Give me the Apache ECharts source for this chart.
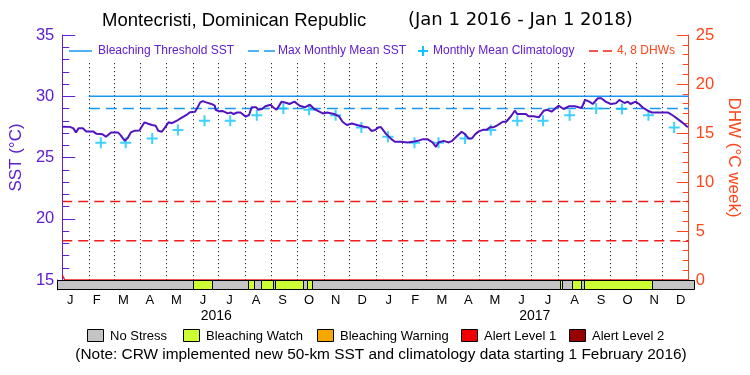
<!DOCTYPE html>
<html>
<head>
<meta charset="utf-8">
<title>Montecristi, Dominican Republic</title>
<script src="https://cdn.jsdelivr.net/npm/echarts@6.0.0/dist/echarts.min.js"></script>
<style>
  html, body { margin: 0; padding: 0; background: #fff; }
  #chart { width: 750px; height: 375px; }
</style>
</head>
<body>
<div id="chart"></div>
<script>
var DAY = 86400000;
var START = Date.UTC(2016, 0, 1);
var TOTAL_DAYS = 731; // Jan 1 2016 -> Jan 1 2018

// daily SST: days since Jan 1 2016 / °C
var sstDays = [0, 9, 13, 16, 19, 24, 28, 36, 40, 47, 51, 57, 65, 68, 73, 76, 80, 84, 90, 96,
  100, 105, 109, 112, 116, 120, 124, 128, 130, 135, 140, 145, 149, 155, 158, 161, 164, 168, 174, 178,
  179, 183, 187, 189, 193, 197, 200, 204, 208, 214, 218, 221, 226, 229, 233, 237, 243, 246, 250, 256,
  262, 265, 271, 277, 283, 289, 294, 300, 304, 309, 317, 323, 327, 332, 338, 344, 352, 357, 361, 365,
  369, 372, 378, 384, 388, 395, 403, 411, 415, 421, 426, 432, 436, 439, 445, 451, 455, 461, 466, 470,
  474, 478, 482, 486, 491, 495, 499, 503, 508, 514, 518, 524, 528, 531, 541, 544, 550, 556, 562, 566,
  571, 579, 585, 591, 598, 606, 610, 615, 619, 625, 629, 634, 640, 646, 650, 656, 660, 663, 669, 673,
  677, 683, 688, 702, 707, 713, 721, 726, 730];
var sstValues = [27.51, 27.5, 27.38, 27.05, 27.38, 27.38, 27.13, 27.13, 26.93, 26.9, 26.69, 27.05, 27.05, 26.83, 26.36, 26.56, 27.05, 27.18, 27.2, 27.87,
  27.76, 27.65, 27.6, 27.18, 27.1, 27.46, 27.87, 27.8, 27.7, 28.06, 28.28, 28.47, 28.69, 28.74, 29.1, 29.5, 29.6, 29.5, 29.37, 29.23,
  28.9, 28.77, 28.8, 28.74, 28.6, 28.67, 28.55, 28.67, 28.67, 28.33, 28.47, 29.1, 29.1, 28.9, 28.96, 29.18, 29.31, 29.1, 28.9, 29.56,
  29.45, 29.37, 29.56, 29.23, 29.1, 29.31, 28.96, 28.74, 28.6, 28.67, 28.55, 28.36, 27.92, 27.65, 27.78, 27.65, 27.51, 27.46, 27.16, 27.24,
  27.46, 27.46, 26.91, 26.5, 26.28, 26.28, 26.23, 26.3, 26.36, 26.5, 26.5, 26.23, 25.87, 26.23, 26.36, 26.23, 26.36, 26.77, 27.1, 26.91,
  26.56, 26.56, 26.91, 27.13, 27.26, 27.26, 27.46, 27.46, 27.65, 27.92, 27.92, 28.41, 28.82, 28.55, 28.55, 28.36, 28.36, 28.28, 28.82, 28.9,
  28.74, 29.23, 28.96, 29.18, 29.18, 29.04, 29.7, 29.56, 29.37, 29.84, 29.84, 29.56, 29.37, 29.42, 29.7, 29.45, 29.56, 29.37, 29.56, 29.37,
  29.1, 28.82, 28.67, 28.67, 28.67, 28.41, 27.99, 27.71, 27.46];

// monthly mean climatology, Jan 2016 .. Dec 2017 (none shown for Jan 2016)
var climValues = [null, 26.2, 26.2, 26.55, 27.25, 28.0, 28.0, 28.45, 29.0, 28.9, 28.45, 27.45,
  26.7, 26.2, 26.2, 26.55, 27.25, 28.0, 28.0, 28.45, 29.0, 28.95, 28.45, 27.45];

var thresholdSST = 30.0;
var mmmSST = 29.0;
var climStartDay = 31; // threshold lines start 1 Feb 2016
var dhwLevels = [4, 8];
var dhwDays = [0, 2, 3, TOTAL_DAYS];
var dhwValues = [0.5, 0.5, 0, 0];

// stress level bar (0 = no stress, 1 = bleaching watch)
var stressStart = [0, 156, 178, 219.5, 226.4, 233.7, 248.2, 250.5, 282.7, 286.5, 293, 577.2, 579.9, 591.4, 601.7, 605.2, 683.2];
var stressEnd = [156, 178, 219.5, 226.4, 233.7, 248.2, 250.5, 282.7, 286.5, 293, 577.2, 579.9, 591.4, 601.7, 605.2, 683.2, 731];
var stressLevel = [0, 1, 0, 1, 0, 1, 0, 1, 0, 1, 0, 1, 0, 1, 0, 1, 0];
var stressNames = ['No Stress', 'Bleaching Watch', 'Bleaching Warning', 'Alert Level 1', 'Alert Level 2'];
var stressColors = ['#c4c4c4', '#ccff33', '#f7a800', '#ee0000', '#960000'];

var monthLetters = ['J', 'F', 'M', 'A', 'M', 'J', 'J', 'A', 'S', 'O', 'N', 'D'];
var years = ['2016', '2017'];

var PURPLE = '#6020d0';
var SSTLINE = '#5214bf';
var ORANGE = '#ff4418';
var BLUE = '#1a96f0';
var CYAN = '#10c4ff';
var RED = '#f01c1c';
var FONT = '"Liberation Sans", Arial, sans-serif';

function dayOf(y, m, d) { return (Date.UTC(y, m, d) - START) / DAY; }

var monthStarts = [], monthMids = [], monthCats = [];
years.forEach(function (y) {
  for (var m = 0; m < 12; m++) {
    var s = dayOf(+y, m, 1);
    if (s > 0) monthStarts.push(s);
    monthMids.push(dayOf(+y, m, 15));
    monthCats.push(String(monthCats.length));
  }
});

var sstData = sstDays.map(function (d, i) { return [d, sstValues[i]]; });
var climData = [];
climValues.forEach(function (v, i) { if (v != null) climData.push([monthMids[i], v]); });
var dhwData = dhwDays.map(function (d, i) { return [d, dhwValues[i]]; });
var stressData = stressStart.map(function (s, i) { return [s, stressEnd[i], stressLevel[i]]; });

var chart = echarts.init(document.getElementById('chart'));

var legendY = 51;
var graphics = [
  { type: 'line', shape: { x1: 69, y1: legendY, x2: 92, y2: legendY }, style: { stroke: BLUE, lineWidth: 1.5 } },
  { type: 'text', style: { text: 'Bleaching Threshold SST', x: 98, y: legendY, fill: PURPLE, font: '12px ' + FONT, verticalAlign: 'middle' } },
  { type: 'line', shape: { x1: 248, y1: legendY, x2: 275, y2: legendY }, style: { stroke: BLUE, lineWidth: 1.5, lineDash: [11, 5] } },
  { type: 'text', style: { text: 'Max Monthly Mean SST', x: 278, y: legendY, fill: PURPLE, font: '12px ' + FONT, verticalAlign: 'middle' } },
  { type: 'line', shape: { x1: 418, y1: legendY, x2: 428, y2: legendY }, style: { stroke: CYAN, lineWidth: 2 } },
  { type: 'line', shape: { x1: 423, y1: legendY - 5, x2: 423, y2: legendY + 5 }, style: { stroke: CYAN, lineWidth: 2 } },
  { type: 'text', style: { text: 'Monthly Mean Climatology', x: 433, y: legendY, fill: PURPLE, font: '12px ' + FONT, verticalAlign: 'middle' } },
  { type: 'line', shape: { x1: 589, y1: legendY, x2: 612, y2: legendY }, style: { stroke: RED, lineWidth: 1.5, lineDash: [9, 5] } },
  { type: 'text', style: { text: '4, 8 DHWs', x: 617, y: legendY, fill: ORANGE, font: '12px ' + FONT, verticalAlign: 'middle' } }
];
var boxX = [87, 183, 317, 461, 569];
stressNames.forEach(function (name, i) {
  graphics.push({ type: 'rect', shape: { x: boxX[i] + 0.5, y: 329.5, width: 16, height: 12 }, style: { fill: stressColors[i], stroke: '#000', lineWidth: 1 } });
  graphics.push({ type: 'text', style: { text: name, x: boxX[i] + 23, y: 336, fill: '#000', font: '13px ' + FONT, verticalAlign: 'middle' } });
});
graphics.push({ type: 'text', style: { text: '(Note: CRW implemented new 50-km SST and climatology data starting 1 February 2016)', x: 381, y: 355, fill: '#000', font: '15.4px ' + FONT, align: 'center', verticalAlign: 'middle' } });

chart.setOption({
  animation: false,
  backgroundColor: '#fff',
  title: [
    { text: 'Montecristi, Dominican Republic', left: 102, top: 11, padding: 0, textStyle: { fontSize: 18.5, fontWeight: 'normal', color: '#000', fontFamily: FONT } },
    { text: '(Jan 1 2016 - Jan 1 2018)', left: 408, top: 11, padding: 0, textStyle: { fontSize: 18, fontWeight: 'normal', color: '#000', fontFamily: '"DejaVu Sans", sans-serif' } }
  ],
  graphic: graphics,
  grid: [
    { left: 57, right: 56, top: 35, height: 245 },
    { left: 57, right: 56, top: 280, height: 10 }
  ],
  xAxis: [
    { gridIndex: 0, type: 'value', min: 0, max: TOTAL_DAYS, position: 'top',
      axisLine: { show: true, lineStyle: { color: '#000', width: 1 } },
      axisTick: { show: false }, axisLabel: { show: false }, splitLine: { show: false } },
    { gridIndex: 1, type: 'value', min: 0, max: TOTAL_DAYS, show: false },
    { gridIndex: 1, type: 'category', data: monthCats, position: 'bottom',
      axisLine: { show: false }, axisTick: { show: false }, splitLine: { show: false },
      axisLabel: { interval: 0, margin: 4, fontSize: 13, color: '#000', fontFamily: FONT,
        formatter: function (v) { return monthLetters[+v % 12]; } } },
    { gridIndex: 1, type: 'category', data: years, position: 'bottom',
      axisLine: { show: false }, axisTick: { show: false }, splitLine: { show: false },
      axisLabel: { interval: 0, margin: 19, fontSize: 14, color: '#000', fontFamily: FONT } }
  ],
  yAxis: [
    { gridIndex: 0, type: 'value', min: 15, max: 35, interval: 5, position: 'left',
      name: 'SST (°C)', nameLocation: 'middle', nameGap: 33, nameRotate: 90,
      nameTextStyle: { color: PURPLE, fontSize: 17, fontFamily: FONT },
      axisLine: { show: true, lineStyle: { color: PURPLE, width: 1 } },
      axisTick: { show: true, inside: true, length: 13, lineStyle: { color: PURPLE } },
      minorTick: { show: true, splitNumber: 5, length: 7, lineStyle: { color: PURPLE } },
      axisLabel: { color: PURPLE, fontSize: 16.5, margin: 8, fontFamily: FONT },
      splitLine: { show: false } },
    { gridIndex: 0, type: 'value', min: 0, max: 25, interval: 5, position: 'right',
      name: 'DHW (°C week)', nameLocation: 'middle', nameGap: 27, nameRotate: -90,
      nameTextStyle: { color: ORANGE, fontSize: 17, fontFamily: FONT },
      axisLine: { show: true, lineStyle: { color: ORANGE, width: 1 } },
      axisTick: { show: true, inside: true, length: 12, lineStyle: { color: ORANGE } },
      minorTick: { show: true, splitNumber: 5, length: 6, lineStyle: { color: ORANGE } },
      axisLabel: { color: ORANGE, fontSize: 16.5, margin: 7, fontFamily: FONT },
      splitLine: { show: false } },
    { gridIndex: 1, type: 'value', min: 0, max: 1,
      axisLine: { show: true, lineStyle: { color: PURPLE, width: 1 } },
      axisTick: { show: false }, axisLabel: { show: false }, splitLine: { show: false } }
  ],
  series: [
    { type: 'custom', xAxisIndex: 0, yAxisIndex: 0, z: 1, silent: true,
      data: monthStarts.map(function (d) { return [d]; }),
      renderItem: function (params, api) {
        var top = api.coord([api.value(0), 32.7]);
        var bottom = api.coord([api.value(0), 15]);
        var x = Math.round(top[0]) + 0.5;
        return { type: 'line', shape: { x1: x, y1: top[1], x2: x, y2: bottom[1] },
          style: { stroke: '#000', lineWidth: 1, lineDash: [1, 3] } };
      } },
    { type: 'line', xAxisIndex: 0, yAxisIndex: 0, z: 2, symbol: 'none',
      data: [[climStartDay, thresholdSST], [TOTAL_DAYS, thresholdSST]],
      lineStyle: { color: BLUE, width: 1.5 } },
    { type: 'line', xAxisIndex: 0, yAxisIndex: 0, z: 2, symbol: 'none',
      data: [[climStartDay, mmmSST], [TOTAL_DAYS, mmmSST]],
      lineStyle: { color: BLUE, width: 1.5, type: [11, 6] } }
  ].concat(dhwLevels.map(function (lv) {
    return { type: 'line', xAxisIndex: 0, yAxisIndex: 1, z: 2, symbol: 'none',
      data: [[0, lv], [TOTAL_DAYS, lv]],
      lineStyle: { color: RED, width: 1.5, type: [10, 6] } };
  })).concat([
    { type: 'line', xAxisIndex: 0, yAxisIndex: 1, z: 2, symbol: 'none', data: dhwData,
      lineStyle: { color: RED, width: 1.5 } },
    { type: 'scatter', xAxisIndex: 0, yAxisIndex: 0, z: 3, data: climData,
      symbol: 'path://M4.5,0h2v4.5h4.5v2h-4.5v4.5h-2v-4.5h-4.5v-2h4.5z', symbolSize: 11,
      itemStyle: { color: CYAN } },
    { type: 'line', xAxisIndex: 0, yAxisIndex: 0, z: 4, symbol: 'none', data: sstData,
      lineStyle: { color: SSTLINE, width: 2 } },
    { type: 'custom', xAxisIndex: 1, yAxisIndex: 2, z: 5, silent: true,
      encode: { x: [0, 1] }, data: stressData,
      renderItem: function (params, api) {
        var p0 = api.coord([api.value(0), 1]);
        var p1 = api.coord([api.value(1), 0]);
        var x0 = Math.round(p0[0]) + 0.5, x1 = Math.round(p1[0]) + 0.5;
        var y0 = Math.round(p0[1]) + 0.5, y1 = Math.round(p1[1]) - 0.5;
        return { type: 'rect', shape: { x: x0, y: y0, width: x1 - x0, height: y1 - y0 },
          style: { fill: stressColors[api.value(2)], stroke: '#000', lineWidth: 1 } };
      } }
  ])
});
</script>
</body>
</html>
